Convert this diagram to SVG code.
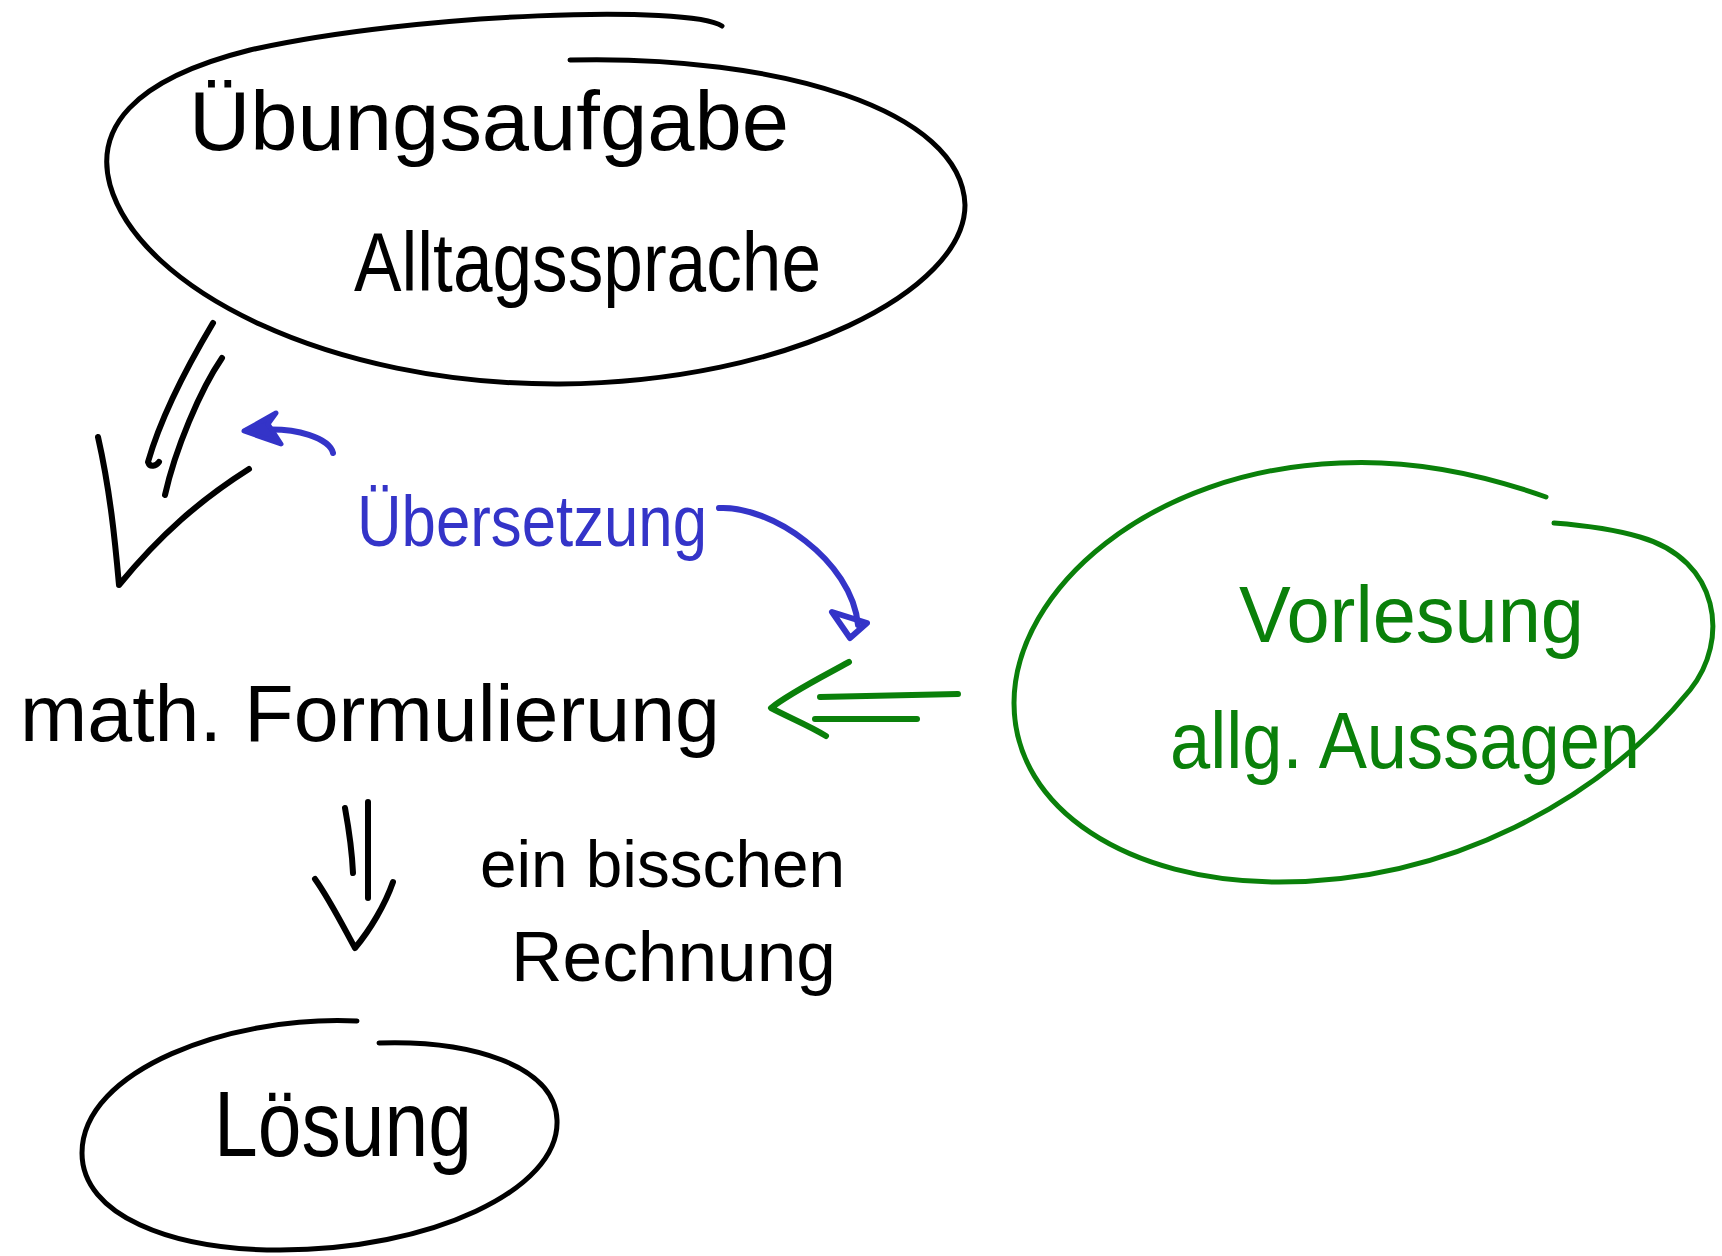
<svg xmlns="http://www.w3.org/2000/svg" width="1722" height="1256" viewBox="0 0 1722 1256">
<style>
.ink{fill:none;stroke-width:5;stroke-linecap:round;stroke-linejoin:round}
.arr{stroke-width:6}
.k{stroke:#000}
.b{stroke:#3434c8}
.g{stroke:#0a800a}
text{font-family:"Liberation Sans","DejaVu Sans",sans-serif;font-weight:normal}
.tk{fill:#000}
.tb{fill:#3434c8}
.tg{fill:#0a800a}
</style>
<rect width="1722" height="1256" fill="#fff"/>
<g id="uebungsaufgabe">
<path class="ink k" d="M 722 26 C 690 5, 420 12, 250 50 C 130 80, 95 130, 110 185 C 140 290, 330 385, 560 384 C 790 382, 965 290, 965 205 C 962 110, 780 55, 570 60"/>
<text class="tk" x="189" y="150" font-size="84" textLength="600" lengthAdjust="spacingAndGlyphs">Übungsaufgabe</text>
<text class="tk" x="354" y="291" font-size="84" textLength="467" lengthAdjust="spacingAndGlyphs">Alltagssprache</text>
</g>
<g id="formulierung">
<text class="tk" x="20" y="741" font-size="80" textLength="700" lengthAdjust="spacingAndGlyphs">math. Formulierung</text>
</g>
<g id="vorlesung">
<path class="ink g" d="M 1546 497 C 1470 470, 1400 460, 1340 463 C 1150 470, 1014 590, 1014 703 C 1014 810, 1130 882, 1279 882 C 1450 882, 1600 800, 1690 690 C 1730 640, 1720 560, 1640 537 C 1610 528, 1580 525, 1554 523"/>
<text class="tg" x="1239" y="642" font-size="80" textLength="345" lengthAdjust="spacingAndGlyphs">Vorlesung</text>
<text class="tg" x="1170" y="768" font-size="80" textLength="470" lengthAdjust="spacingAndGlyphs">allg. Aussagen</text>
</g>
<g id="loesung">
<path class="ink k" d="M 357 1021 C 230 1015, 82 1070, 82 1153 C 82 1215, 170 1250, 280 1250 C 430 1250, 560 1190, 557 1120 C 555 1065, 470 1040, 379 1043"/>
<text class="tk" x="214" y="1156" font-size="92" textLength="258" lengthAdjust="spacingAndGlyphs">Lösung</text>
</g>
<g id="connectors">
<g id="arrow-uebersetzung-down">
<path class="ink arr k" d="M 213 323 C 185 370, 160 420, 148 462 C 150 468, 156 466, 159 462"/>
<path class="ink arr k" d="M 222 358 C 200 390, 175 450, 165 495"/>
<path class="ink arr k" d="M 98 437 C 110 490, 115 540, 119 585 C 160 535, 200 500, 249 469"/>
</g>
<g id="arrow-uebersetzung-blue">
<path class="ink arr b" d="M 333 453 C 330 440, 300 425, 248 431"/>
<path d="M 244 431 L 276 413 L 268 424 L 281 444 Z" fill="#3434c8" stroke="#3434c8" stroke-width="5" stroke-linejoin="round"/>
<path class="ink arr b" d="M 719 508 C 770 505, 852 560, 858 625"/>
<path class="ink arr b" d="M 832 612 L 867 623 L 850 638 Z"/>
<text class="tb" x="357" y="546" font-size="72" textLength="350" lengthAdjust="spacingAndGlyphs">Übersetzung</text>
</g>
<g id="arrow-vorlesung">
<path class="ink arr g" d="M 820 697 L 958 694"/>
<path class="ink arr g" d="M 815 719 L 917 719"/>
<path class="ink arr g" d="M 849 662 C 820 678, 790 693, 771 708 C 790 718, 810 726, 826 736"/>
</g>
<g id="arrow-rechnung">
<path class="ink arr k" d="M 345 808 C 349 830, 352 850, 353 873"/>
<path class="ink arr k" d="M 368 802 L 368 898"/>
<path class="ink arr k" d="M 315 879 C 330 900, 345 930, 355 948 C 370 930, 385 905, 393 882"/>
<text class="tk" x="480" y="887" font-size="66" textLength="365" lengthAdjust="spacingAndGlyphs">ein bisschen</text>
<text class="tk" x="511" y="981" font-size="70" textLength="325" lengthAdjust="spacingAndGlyphs">Rechnung</text>
</g>
</g>
</svg>
